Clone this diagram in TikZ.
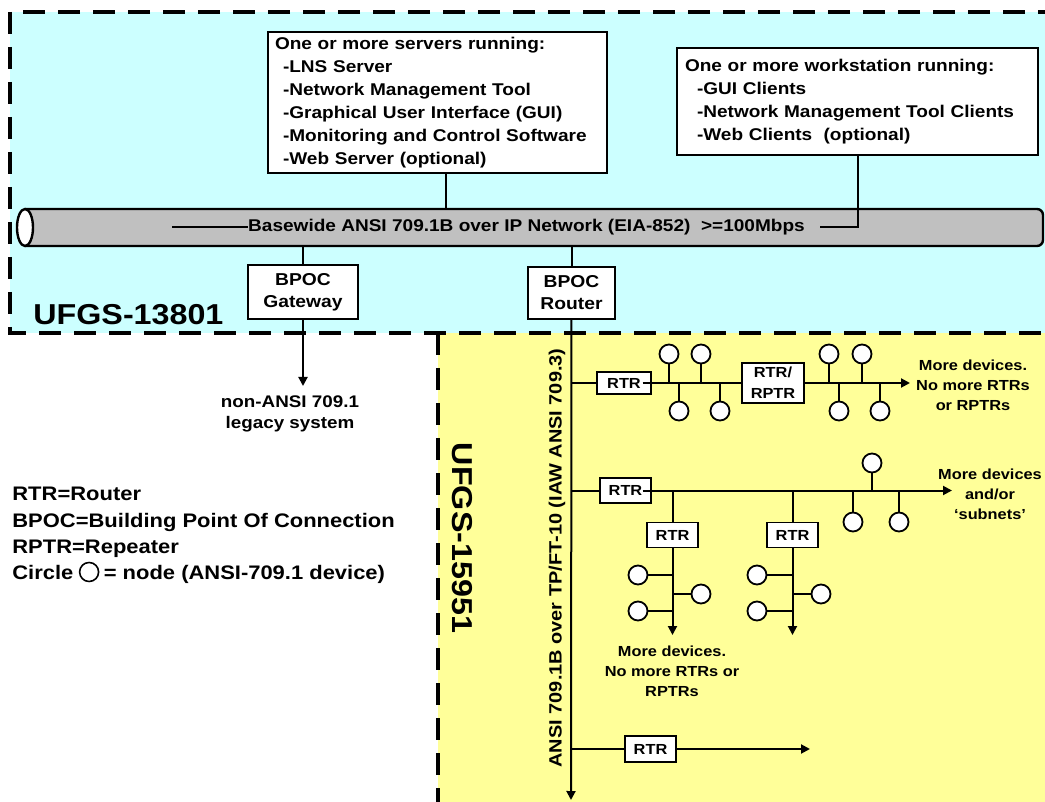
\documentclass[tikz,border=0pt]{standalone}
\usepackage{fontspec}
\setmainfont{Liberation Sans}[FakeStretch=1.12]
\usetikzlibrary{arrows.meta,positioning}
\definecolor{specblue}{HTML}{CCFFFF}
\definecolor{specyellow}{HTML}{FFFF99}
\definecolor{pipegray}{HTML}{C0C0C0}

\begin{document}
\begin{tikzpicture}[x=0.5pt,y=-0.5pt]
\tikzstyle{every node}=[font=\bfseries\fontsize{8.5}{11.5}\selectfont, inner sep=0pt]
\tikzstyle{box}=[draw, fill=white, line width=0.7pt, align=center]
\tikzstyle{rtr}=[box, font=\bfseries\fontsize{7.3}{10.5}\selectfont, minimum width=25.5pt, minimum height=12.5pt]
\tikzstyle{dev}=[circle, draw, fill=white, line width=0.9pt, minimum size=9.5pt]
\tikzstyle{wire}=[line width=1pt]
\tikzstyle{feed}=[wire, -{Triangle[length=4.5pt,width=4.5pt]}]
\tikzstyle{zone}=[line width=2pt, dash pattern=on 11pt off 6.5pt]
\tikzstyle{note}=[align=center, font=\bfseries\fontsize{7.3}{10}\selectfont]
\tikzstyle{lg}=[anchor=base west, font=\bfseries\fontsize{9.8}{12}\selectfont]
\tikzstyle{big}=[font=\bfseries\fontsize{14.4}{16}\selectfont]

\useasboundingbox (0,0) rectangle (1045,802);

% the two spec zones
\fill[specblue] (10,12) rectangle (1060,333);
\fill[specyellow] (438,333) rectangle (1060,815);
\draw[zone] (1060,12) -- (10,12) -- (10,333) -- (1060,333);
\draw[zone] (438,333) -- (438,815);
\node[big, anchor=base west] (z1) at (33,325) {UFGS-13801};
\node[big, rotate=-90] (z2) at (462,538) {UFGS-15951};

% IP backbone
\draw[line width=1.2pt, fill=pipegray, rounded corners=3pt] (25,209) -- (1043,209) -- (1043,246) -- (25,246);
\draw[line width=1.2pt, fill=white] (25,227.5) ellipse [x radius=8, y radius=18.5];
\coordinate (pipeT) at (0,209);
\coordinate (pipeB) at (0,246);
\node (net) at (526.5,227.5) {Basewide ANSI 709.1B over IP Network (EIA-852)~~>=100Mbps};
\coordinate (netL) at (172,227.5);
\coordinate (netR) at (820,227.5);
\draw[wire] (netL) -- (net.west);

% servers / workstations
\node[box, text width=162.5pt, inner xsep=3.5pt, minimum height=70.5pt, align=left] (srv) at (437.5,102.5)
  {One or more servers running:\\
   \hspace*{4pt}-LNS Server\\
   \hspace*{4pt}-Network Management Tool\\
   \hspace*{4pt}-Graphical User Interface (GUI)\\
   \hspace*{4pt}-Monitoring and Control Software\\
   \hspace*{4pt}-Web Server (optional)};
\node[box, text width=172.5pt, inner xsep=4pt, minimum height=53.5pt, align=left] (ws) at (857.5,101.5)
  {One or more workstation running:\\
   \hspace*{6pt}-GUI Clients\\
   \hspace*{6pt}-Network Management Tool Clients\\
   \hspace*{6pt}-Web Clients~~(optional)};
\coordinate (srvC) at (446,0);
\draw[wire] (srv.south -| srvC) -- (srvC |- pipeT);
\draw[wire] (netR) -| (ws.south);

% BPOCs
\node[box, minimum width=55pt, minimum height=27pt, font=\bfseries\fontsize{8.6}{11}\selectfont] (gw) at (303,292) {BPOC\\Gateway};
\node[box, minimum width=43.5pt, minimum height=26pt, font=\bfseries\fontsize{8.6}{11}\selectfont] (rt) at (571.5,293) {BPOC\\Router};
\draw[wire] (gw |- pipeB) -- (gw);
\draw[wire] (rt |- pipeB) -- (rt);
\coordinate (gwEnd) at (303,386);
\draw[feed] (gw) -- (gwEnd);
\node[align=center, font=\bfseries\fontsize{8.4}{10.5}\selectfont] (legacy) at (290,413.5) {non-ANSI 709.1\\legacy system};

% TP/FT-10 channel
\coordinate (busEnd) at (571,800);
\draw[feed] (rt) -- (busEnd);
\node[rotate=90, font=\bfseries\fontsize{8.9}{11}\selectfont] (chan) at (557,558) {ANSI 709.1B over TP/FT-10 (IAW ANSI 709.3)};

% first segment
\coordinate (b1) at (571,383);
\node[rtr, minimum width=27pt, minimum height=11pt] (r1a) at (624,383) {RTR};
\node[rtr, minimum width=31pt, minimum height=20pt] (r1b) at (773,383) {RTR/\\RPTR};
\coordinate (r1End) at (910,383);
\draw[wire] (b1) -- (r1a);
\draw[wire] ([xshift=-4.5pt]r1a.east) -- (r1b);
\draw[feed] (r1b) -- (r1End);
\foreach \x/\n in {669/a,701/b,829/c,862/d}{
  \node[dev] (u\n) at (\x,354) {};
  \draw[wire] (u\n) -- (u\n |- b1);
}
\foreach \x/\n in {679/a,720/b,839/c,880/d}{
  \node[dev] (l\n) at (\x,411) {};
  \draw[wire] (l\n) -- (l\n |- b1);
}
\node[note] (more1) at (973,385) {More devices.\\No more RTRs\\or RPTRs};

% second segment
\coordinate (b2) at (571,490.5);
\node[rtr] (r2a) at (625.5,490.5) {RTR};
\coordinate (r2End) at (952,490.5);
\draw[wire] (b2) -- (r2a);
\draw[feed] ([xshift=-4.5pt]r2a.east) -- (r2End);
\node[dev] (v1) at (872,463) {};
\draw[wire] (v1) -- (v1 |- b2);
\foreach \x/\n in {853/a,899/b}{
  \node[dev] (m\n) at (\x,522) {};
  \draw[wire] (m\n) -- (m\n |- b2);
}
\node[note] (more2) at (990,494) {More devices\\and/or\\‘subnets’};

\node[rtr] (s1) at (672.5,535) {RTR};
\node[rtr] (s2) at (792.5,535) {RTR};
\draw[wire] (s1 |- b2) -- (s1);
\draw[wire] (s2 |- b2) -- (s2);
\coordinate (s1End) at (672.5,635);
\coordinate (s2End) at (792.5,635);
\draw[feed] (s1) -- (s1End);
\draw[feed] (s2) -- (s2End);
\foreach \b/\n/\x/\y in {s1/a/638/575, s1/b/638/611, s1/c/701/594, s2/a/757/575, s2/b/757/611, s2/c/821/594}{
  \node[dev] (\b\n) at (\x,\y) {};
  \draw[wire] (\b\n) -- (\b\n -| \b);
}
\node[note] (more3) at (672,671) {More devices.\\No more RTRs or\\RPTRs};

% third segment
\coordinate (b3) at (571,749);
\node[rtr, minimum height=13pt] (r3) at (650.5,749) {RTR};
\coordinate (r3End) at (810,749);
\draw[wire] (b3) -- (r3);
\draw[feed] (r3) -- (r3End);

% legend
\node[lg] (lg1) at (12,500) {RTR=Router};
\node[lg] (lg2) at (12,527) {BPOC=Building Point Of Connection};
\node[lg] (lg3) at (12,553) {RPTR=Repeater};
\node[lg] (lg4) at (12,579) {Circle};
\node[dev, line width=0.8pt, right=2.5pt of lg4] (lgO) {};
\node[lg] (lg5) at ([xshift=2pt]lgO.east |- lg4.base) {= node (ANSI-709.1 device)};
\end{tikzpicture}
\end{document}
